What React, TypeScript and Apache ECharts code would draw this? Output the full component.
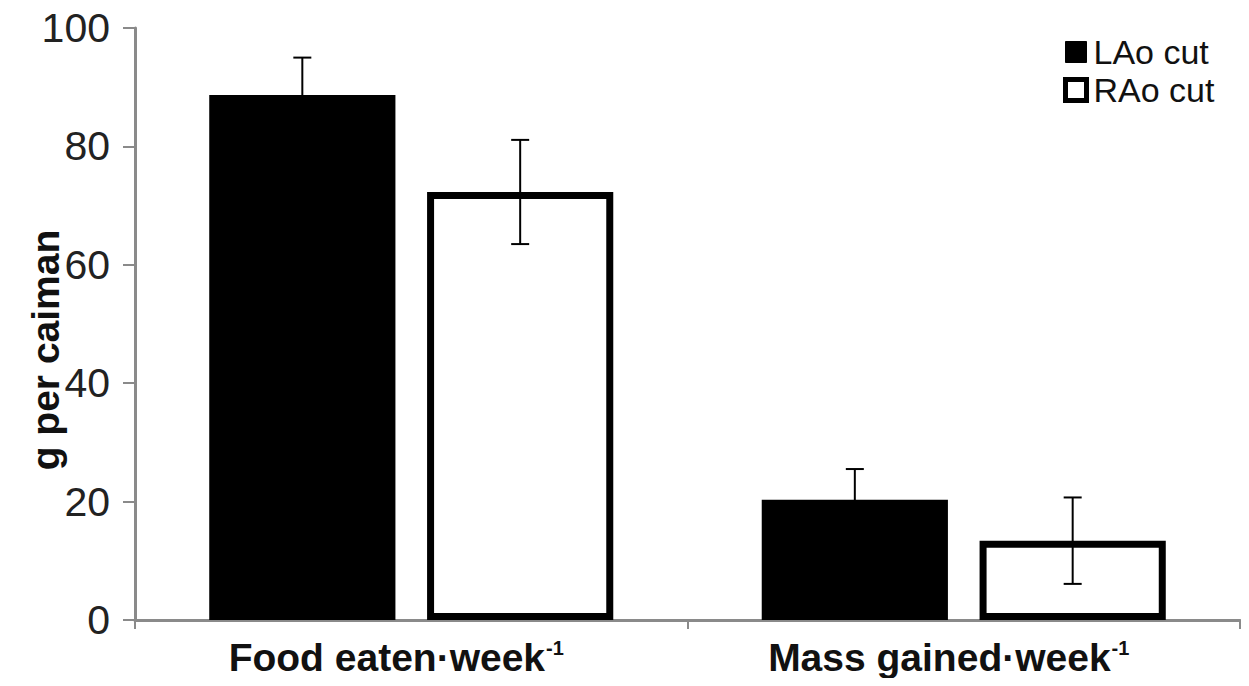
import React, { useEffect, useRef } from "react";
import * as echarts from "echarts";

const categories = ["Food eaten·week", "Mass gained·week"];
const seriesNames = ["LAo cut", "RAo cut"];
const laoValues = [88.7, 20.3];
const laoErrors = [6.3, 5.2];
const raoValues = [72.3, 13.4];
const raoErrors = [8.8, 7.3];
const yTicks = { min: 0, max: 100, interval: 20 };

const BAR_FRAC = 0.337;
const GAP_FRAC = 0.17;

export default function App() {
  const ref = useRef<HTMLDivElement>(null);
  useEffect(() => {
    if (!ref.current) return;
    const chart = echarts.init(ref.current, null, { renderer: "svg" });
    const axisColor = "#8a8a8a";
    const font = "'Liberation Sans', Arial, sans-serif";

    const errSeries = (values: number[], errors: number[], sign: number, name: string) => ({
      type: "custom",
      name: name + " error",
      z: 10,
      silent: true,
      data: values.map((v, i) => [i, v, errors[i]]),
      renderItem: (params: any, api: any) => {
        const idx = api.value(0);
        const v = api.value(1);
        const e = api.value(2);
        const band = api.size([1, 0])[0];
        const off = sign * (band * BAR_FRAC * (1 + GAP_FRAC)) / 2;
        const top = api.coord([idx, v + e]);
        const bot = api.coord([idx, v - e]);
        const x = top[0] + off;
        const cap = 9;
        const style = { stroke: "#000", lineWidth: 2 };
        return {
          type: "group",
          children: [
            { type: "line", shape: { x1: x, y1: top[1], x2: x, y2: bot[1] }, style },
            { type: "line", shape: { x1: x - cap, y1: top[1], x2: x + cap, y2: top[1] }, style },
            { type: "line", shape: { x1: x - cap, y1: bot[1], x2: x + cap, y2: bot[1] }, style },
          ],
        };
      },
    });

    chart.setOption({
      animation: false,
      textStyle: { fontFamily: font },
      grid: { left: 135, right: 9, top: 28, bottom: 66, containLabel: false },
      legend: {
        orient: "vertical",
        left: 1063,
        top: 35,
        padding: 0,
        itemWidth: 21,
        itemHeight: 21,
        itemGap: 4,
        icon: "rect",
        data: [
          { name: seriesNames[0], itemStyle: { color: "#000", borderColor: "#000", borderWidth: 1 } },
          { name: seriesNames[1], itemStyle: { color: "#fff", borderColor: "#000", borderWidth: 5 } },
        ],
        textStyle: { fontSize: 34, color: "#111", fontFamily: font, lineHeight: 34, padding: [0, 0, 0, 2] },
      },
      xAxis: {
        type: "category",
        data: categories,
        axisLine: { show: true, lineStyle: { color: axisColor, width: 3 } },
        axisTick: { show: true, length: 9, lineStyle: { color: axisColor, width: 2 } },
        axisLabel: {
          margin: 18,
          padding: [0, 30, 0, 0],
          formatter: (v: string) => `{a|${v}}{s|-1}`,
          rich: {
            a: { fontSize: 39, fontWeight: "bold", color: "#111", fontFamily: font },
            s: { fontSize: 20, fontWeight: "bold", color: "#111", fontFamily: font, verticalAlign: "top", padding: [0, 0, 16, 1] },
          },
        },
      },
      yAxis: {
        type: "value",
        min: yTicks.min,
        max: yTicks.max,
        interval: yTicks.interval,
        splitLine: { show: false },
        axisLine: { show: true, lineStyle: { color: axisColor, width: 3 } },
        axisTick: { show: true, length: 12, lineStyle: { color: axisColor, width: 2 } },
        axisLabel: { fontSize: 41, color: "#222", margin: 25, fontFamily: font },
      },
      graphic: [
        {
          type: "text",
          x: 45,
          y: 350,
          rotation: Math.PI / 2,
          style: {
            text: "g per caiman",
            fontSize: 39,
            fontWeight: "bold",
            fill: "#111",
            fontFamily: font,
            textAlign: "center",
            textVerticalAlign: "middle",
          },
        },
      ],
      series: [
        {
          type: "bar",
          name: seriesNames[0],
          data: laoValues,
          barWidth: BAR_FRAC * 100 + "%",
          barGap: GAP_FRAC * 100 + "%",
          itemStyle: { color: "#000", borderColor: "#000", borderWidth: 0 },
        },
        {
          type: "bar",
          name: seriesNames[1],
          data: raoValues,
          barWidth: BAR_FRAC * 100 + "%",
          barGap: GAP_FRAC * 100 + "%",
          itemStyle: { color: "#fff", borderColor: "#000", borderWidth: 7 },
        },
        errSeries(laoValues, laoErrors, -1, seriesNames[0]),
        errSeries(raoValues, raoErrors, 1, seriesNames[1]),
      ],
    });
    return () => chart.dispose();
  }, []);
  return <div ref={ref} style={{ width: 1249, height: 686, margin: -8 }} />;
}
